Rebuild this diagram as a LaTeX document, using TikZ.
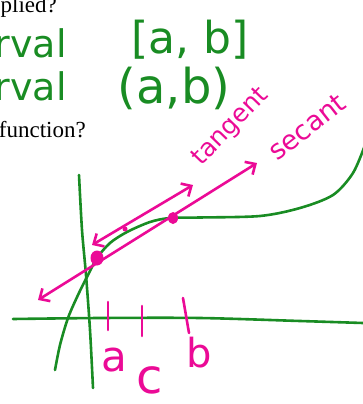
\documentclass[tikz,border=0pt]{standalone}
\usepackage{fontspec}
\setmainfont{Liberation Serif}
\newfontfamily\hand{DejaVu Sans}
\usetikzlibrary{arrows.meta}
\definecolor{pengreen}{RGB}{25,140,35}
\definecolor{penpink}{RGB}{235,10,150}
\begin{document}
\begin{tikzpicture}[x=1pt,y=-1pt,
  greenline/.style={pengreen, line width=2.6pt, line cap=round, line join=round},
  pinkline/.style={penpink, line width=2.6pt, line cap=round, line join=round},
  dblarrow/.style={pinkline, {Straight Barb[length=8pt,width=15pt]}-{Straight Barb[length=8pt,width=15pt]}},
  greentext/.style={text=pengreen, inner sep=0pt, font=\hand},
  pinktext/.style={text=penpink, inner sep=0pt, font=\hand},
  printtext/.style={text=black, inner sep=0pt}]
\useasboundingbox (0,0) rectangle (363,404);
\clip (0,0) rectangle (363,404);
% printed text
\node[printtext, anchor=base east, font=\fontsize{23}{25}\selectfont] (q1) at (57,13) {applied?};
\node[printtext, anchor=base east, font=\fontsize{23}{25}\selectfont] (q2) at (86,137) {function?};
% handwritten green text
\node[greentext, anchor=base east, font=\hand\fontsize{38}{40}\selectfont] (l1) at (67,58) {erval};
\node[greentext, anchor=base east, font=\hand\fontsize{38}{40}\selectfont] (l2) at (67,100) {erval};
\node[greentext, font=\hand\fontsize{44}{46}\selectfont] (closed) at (190,40) {[a, b]};
\node[greentext, font=\hand\fontsize{48}{50}\selectfont] (open) at (174,88) {(a,b)};
% axes
\draw[greenline] plot[smooth] coordinates {(79,175) (82,230) (86,275) (90,330) (93,388)};
\draw[greenline] plot[smooth] coordinates {(13,319) (100,318) (200,318) (300,321) (363,323)};
% curve
\draw[greenline] plot[smooth] coordinates {(55,370) (60,345) (68,318) (78,295) (88,275) (97,258) (110,243) (127,232) (150,222) (170,218) (200,217.5) (260,216) (300,208) (333,195) (353,173) (365,145)};
% points
\coordinate (pa) at (97,258);
\coordinate (pb) at (173,218);
\coordinate (pc) at (125,229);
\coordinate (s1) at (38,300);
\coordinate (s2) at (257,163);
\coordinate (t1) at (92,245);
\coordinate (t2) at (193,185);
\draw[dblarrow] (s1) -- (s2);
\draw[dblarrow] (t1) -- (t2);
\fill[penpink] (pa) ellipse [x radius=6.5, y radius=7.5];
\fill[penpink] (pb) ellipse [x radius=5, y radius=6];
\fill[penpink] (pc) circle [radius=2.5];
% labels
\node[pinktext, rotate=46, font=\hand\fontsize{25}{27}\selectfont] (tan) at (231,127) {tangent};
\node[pinktext, rotate=38, font=\hand\fontsize{27}{29}\selectfont] (sec) at (307,127) {secant};
% ticks
\draw[pinkline] (108,302) -- (108,330);
\draw[pinkline] (142,306) -- (142,336);
\draw[pinkline] (183,298) -- (189,333);
\node[pinktext, font=\hand\fontsize{42}{44}\selectfont] (la) at (114,360) {a};
\node[pinktext, font=\hand\fontsize{48}{50}\selectfont] (lc) at (150,380) {c};
\node[pinktext, font=\hand\fontsize{40}{42}\selectfont] (lb) at (199,353) {b};
\end{tikzpicture}
\end{document}
